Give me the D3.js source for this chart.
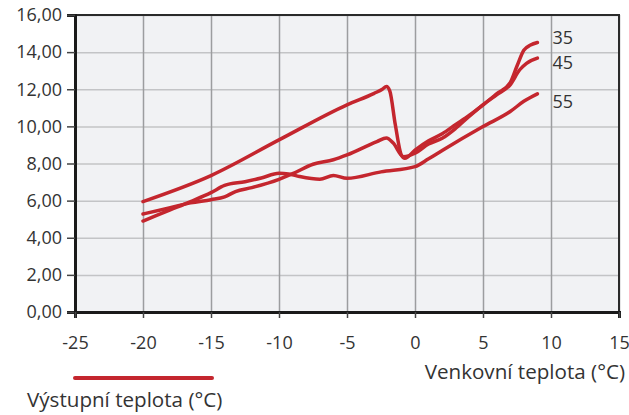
<!DOCTYPE html>
<html>
<head>
<meta charset="utf-8">
<script src="https://cdn.jsdelivr.net/npm/d3@7"></script>
<style>
  body { margin: 0; background: #fff; }
  text { font-family: "Open Sans", "Noto Sans", sans-serif; fill: #333; }
</style>
</head>
<body>
<div class="chart-wrapper"></div>
<script>
const width = 629;
const height = 415;
const margin = { top: 15, right: 10, bottom: 103, left: 75 };

// výstupní teplota 35 °C
const temp35 = [-20, -15, -10, -5, -3, -2.4, -2.1, -1.85, -1.45, -1, -0.75, 0, 1, 2, 3, 4, 5, 6, 7, 7.5, 8, 8.5, 9];
const power35 = [5.95, 7.35, 9.27, 11.16, 11.78, 12.0, 12.15, 11.9, 10.1, 8.45, 8.28, 8.72, 9.22, 9.6, 10.1, 10.6, 11.16, 11.75, 12.35, 13.25, 14.1, 14.38, 14.52];

// výstupní teplota 45 °C
const temp45 = [-20, -18, -16.5, -15, -14, -13.2, -12, -10, -9, -7.5, -6, -5, -2.8, -2.1, -1.6, -0.85, 0, 1, 2, 3, 4, 5, 6, 7, 7.7, 8.2, 9];
const power45 = [5.28, 5.62, 5.88, 6.05, 6.2, 6.49, 6.7, 7.15, 7.45, 7.96, 8.2, 8.46, 9.18, 9.38, 9.1, 8.37, 8.55, 9.05, 9.36, 9.9, 10.55, 11.16, 11.7, 12.24, 13.05, 13.4, 13.68];

// výstupní teplota 55 °C
const temp55 = [-20, -18, -16.5, -15, -14, -12.5, -11.3, -10, -9.3, -8.5, -7, -6, -5, -2.5, 0, 1, 2, 5, 7, 8, 9];
const power55 = [4.9, 5.5, 5.95, 6.43, 6.82, 7.02, 7.22, 7.47, 7.44, 7.3, 7.15, 7.36, 7.2, 7.55, 7.83, 8.25, 8.7, 9.99, 10.8, 11.35, 11.75];

const seriesNames = ["35", "45", "55"];
const xTicks = [-25, -20, -15, -10, -5, 0, 5, 10, 15];
const yTicks = [0, 2, 4, 6, 8, 10, 12, 14, 16];

const series = [
    { name: seriesNames[0], values: temp35.map((t, i) => [t, power35[i]]) },
    { name: seriesNames[1], values: temp45.map((t, i) => [t, power45[i]]) },
    { name: seriesNames[2], values: temp55.map((t, i) => [t, power55[i]]) }
];

const innerW = width - margin.left - margin.right;
const innerH = height - margin.top - margin.bottom;

const svg = d3.select(".chart-wrapper").append("svg")
    .attr("width", width)
    .attr("height", height);

const g = svg.append("g")
    .attr("transform", `translate(${margin.left},${margin.top})`);

const x = d3.scaleLinear().domain([-25, 15]).range([0, innerW]);
const y = d3.scaleLinear().domain([0, 16]).range([innerH, 0]);

g.append("rect")
    .attr("width", innerW)
    .attr("height", innerH)
    .attr("fill", "#f1f2f4");

// mřížka
g.append("g")
    .attr("class", "grid-y")
    .call(d3.axisLeft(y).tickValues(yTicks).tickSize(-innerW).tickFormat(""))
    .call(s => s.select(".domain").remove())
    .call(s => s.selectAll("line").attr("stroke", "#c3c4c6").attr("stroke-width", 1.5));

g.append("g")
    .attr("class", "grid-x")
    .attr("transform", `translate(0,${innerH})`)
    .call(d3.axisBottom(x).tickValues(xTicks).tickSize(-innerH).tickFormat(""))
    .call(s => s.select(".domain").remove())
    .call(s => s.selectAll("line").attr("stroke", "#9c9d9f").attr("stroke-width", 1.5));

// rámeček
g.append("rect")
    .attr("width", innerW)
    .attr("height", innerH)
    .attr("fill", "none")
    .attr("stroke", "#2a2a2a")
    .attr("stroke-width", 2);

const yAxis = g.append("g")
    .call(d3.axisLeft(y).tickValues(yTicks).tickSize(8).tickPadding(5)
        .tickFormat(d => d3.format(".2f")(d).replace(".", ",")));
yAxis.select(".domain").attr("stroke", "#1a1a1a").attr("stroke-width", 3);
yAxis.selectAll("line").attr("stroke", "#444").attr("stroke-width", 1.5);
yAxis.selectAll("text").attr("font-size", 18).attr("fill", "#333");

const xAxis = g.append("g")
    .attr("transform", `translate(0,${innerH})`)
    .call(d3.axisBottom(x).tickValues(xTicks).tickSize(6).tickPadding(18)
        .tickFormat(d => String(d)));
xAxis.select(".domain").attr("stroke", "#1a1a1a").attr("stroke-width", 3);
xAxis.selectAll("line").attr("stroke", "#444").attr("stroke-width", 1.5);
xAxis.selectAll("text").attr("font-size", 18).attr("fill", "#333");

const line = d3.line()
    .x(d => x(d[0]))
    .y(d => y(d[1]))
    .curve(d3.curveMonotoneX);

g.append("g")
    .selectAll("path")
    .data(series)
    .join("path")
    .attr("d", d => line(d.values))
    .attr("fill", "none")
    .attr("stroke", "#c4262e")
    .attr("stroke-width", 3.5)
    .attr("stroke-linejoin", "round")
    .attr("stroke-linecap", "round");

// popisky řad vpravo (posun proti poslední hodnotě)
const labelShift = [0.26, -0.27, -0.44];
g.append("g")
    .selectAll("text")
    .data(series)
    .join("text")
    .attr("x", x(9) + 15)
    .attr("y", (d, i) => y(d.values[d.values.length - 1][1] + labelShift[i]))
    .attr("dy", "0.35em")
    .attr("font-size", 18)
    .text(d => d.name);

svg.append("text")
    .attr("x", 625)
    .attr("y", 372)
    .attr("dy", "0.35em")
    .attr("text-anchor", "end")
    .attr("font-size", 20.6)
    .text("Venkovní teplota (°C)");

svg.append("line")
    .attr("x1", 75)
    .attr("x2", 212)
    .attr("y1", 378)
    .attr("y2", 378)
    .attr("stroke", "#c4262e")
    .attr("stroke-width", 4)
    .attr("stroke-linecap", "round");

svg.append("text")
    .attr("x", 27)
    .attr("y", 400)
    .attr("dy", "0.35em")
    .attr("font-size", 20.6)
    .text("Výstupní teplota (°C)");
</script>
</body>
</html>
